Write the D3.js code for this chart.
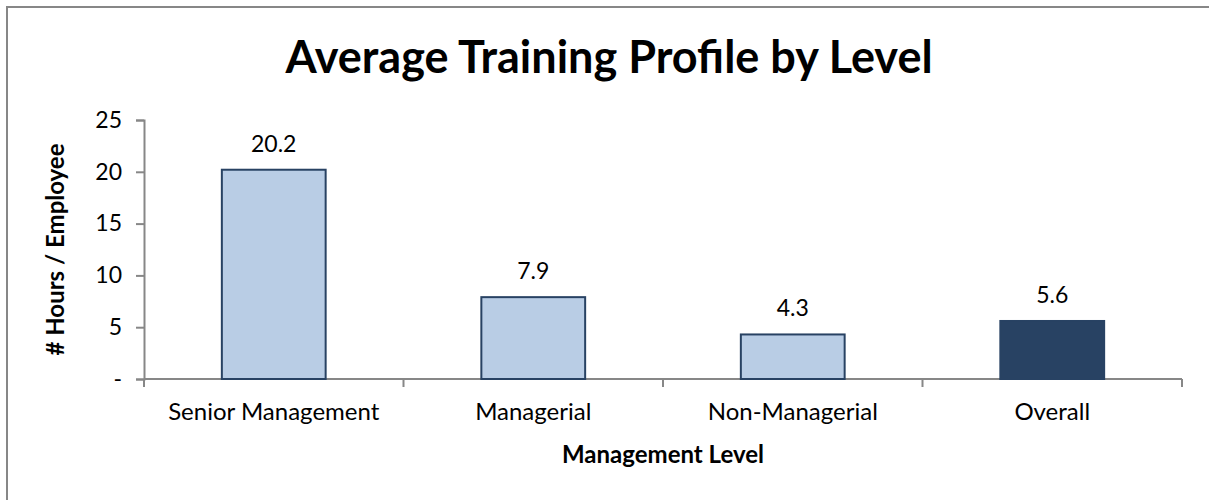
<!DOCTYPE html>
<html lang="en">
<head>
<meta charset="utf-8">
<title>Average Training Profile by Level</title>
<script src="https://d3js.org/d3.v7.js"></script>
<style>
  body { margin: 0; background: #fff; }
  text { font-family: Lato, "Open Sans", sans-serif; fill: #000; }
</style>
</head>
<body>
<script>
// chart data
var categories = ["Senior Management", "Managerial", "Non-Managerial", "Overall"];
var hours = [20.2, 7.9, 4.3, 5.6];
var yTicks = [0, 5, 10, 15, 20, 25];
var tickLabels = ["-", "5", "10", "15", "20", "25"];

var w = 1209;
var h = 500;
var plotLeft = 144, plotRight = 1182, plotTop = 120, plotBottom = 379;
var axisGrey = "#878787";

var svg = d3.select("body").append("svg")
  .attr("width", w)
  .attr("height", h);

// outer frame (right/bottom run off the picture)
svg.append("rect")
  .attr("x", 7).attr("y", 7)
  .attr("width", 1220).attr("height", 510)
  .attr("fill", "none")
  .attr("stroke", axisGrey)
  .attr("stroke-width", 2);

var xScale = d3.scaleBand()
  .domain(categories)
  .range([plotLeft, plotRight])
  .paddingInner(0.6)
  .paddingOuter(0.3);

var yScale = d3.scaleLinear()
  .domain([0, 25])
  .range([plotBottom, plotTop]);

// y axis
var yAxis = d3.axisLeft(yScale)
  .tickValues(yTicks)
  .tickFormat(function (d, i) { return tickLabels[i]; })
  .tickSizeOuter(0)
  .tickSize(8)
  .tickPadding(14);

var gy = svg.append("g")
  .attr("transform", "translate(" + plotLeft + ",0)")
  .call(yAxis);

gy.select(".domain").attr("stroke", axisGrey).attr("stroke-width", 2);
gy.selectAll(".tick line").attr("stroke", axisGrey).attr("stroke-width", 2);
gy.selectAll(".tick text")
  .attr("font-size", 23)
  .attr("font-family", "Lato, sans-serif")
  .attr("fill", "#000");

// x axis: line with ticks on the band boundaries
var xLine = d3.scaleLinear().domain([0, categories.length]).range([plotLeft, plotRight]);
var gx = svg.append("g")
  .attr("transform", "translate(0," + plotBottom + ")");
gx.append("line")
  .attr("x1", plotLeft).attr("x2", plotRight)
  .attr("stroke", axisGrey).attr("stroke-width", 2);
gx.selectAll("line.tick")
  .data(d3.range(categories.length + 1))
  .enter().append("line")
  .attr("class", "tick")
  .attr("x1", d => xLine(d)).attr("x2", d => xLine(d))
  .attr("y1", 0).attr("y2", 8)
  .attr("stroke", axisGrey).attr("stroke-width", 2);
gx.selectAll("text")
  .data(categories)
  .enter().append("text")
  .attr("x", d => xScale(d) + xScale.bandwidth() / 2)
  .attr("y", 41)
  .attr("text-anchor", "middle")
  .attr("font-size", 24)
  .text(d => d);

// bars
svg.selectAll("rect.bar")
  .data(hours)
  .enter().append("rect")
  .attr("class", "bar")
  .attr("x", (d, i) => xScale(categories[i]))
  .attr("y", d => yScale(d))
  .attr("width", xScale.bandwidth())
  .attr("height", d => yScale(0) - yScale(d))
  .attr("fill", (d, i) => i === 3 ? "#284263" : "#b9cde5")
  .attr("stroke", "#284263")
  .attr("stroke-width", 2);

// value labels
svg.selectAll("text.val")
  .data(hours)
  .enter().append("text")
  .attr("class", "val")
  .attr("x", (d, i) => xScale(categories[i]) + xScale.bandwidth() / 2)
  .attr("y", d => yScale(d) - 18)
  .attr("text-anchor", "middle")
  .attr("font-size", 23)
  .text(d => d.toFixed(1));

// titles
svg.append("text")
  .attr("x", 609)
  .attr("y", 73)
  .attr("text-anchor", "middle")
  .attr("font-size", 45)
  .attr("font-weight", "bold")
  .text("Average Training Profile by Level");

svg.append("text")
  .attr("x", (plotLeft + plotRight) / 2)
  .attr("y", 463)
  .attr("text-anchor", "middle")
  .attr("font-size", 24)
  .attr("font-weight", "bold")
  .text("Management Level");

svg.append("text")
  .attr("transform", "translate(64," + (plotTop + plotBottom) / 2 + ") rotate(-90)")
  .attr("text-anchor", "middle")
  .attr("font-size", 24)
  .attr("font-weight", "bold")
  .text("# Hours / Employee");
</script>
</body>
</html>
